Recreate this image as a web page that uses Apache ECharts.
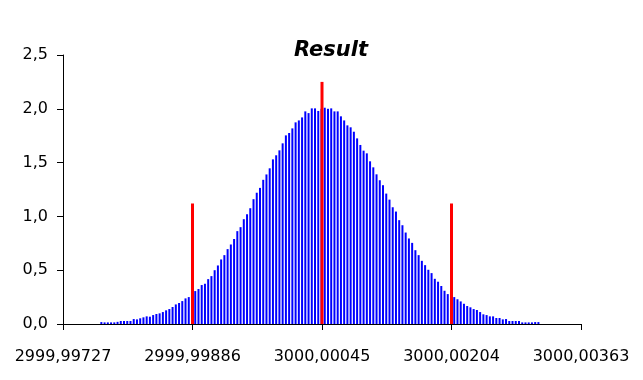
<!DOCTYPE html>
<html>
<head>
<meta charset="utf-8">
<script src="https://cdn.jsdelivr.net/npm/echarts@6/dist/echarts.min.js"></script>
<style>
html,body{margin:0;padding:0;background:#fff;}
#chart{width:643px;height:380px;}
</style>
</head>
<body>
<div id="chart"></div>
<script>
// x axis: bin index, 40 bins between labelled ticks
const tickLabels = ["2999,99727", "2999,99886", "3000,00045", "3000,00204", "3000,00363"];
const firstBin = 12;
const binCounts = [
  0.018, 0.015, 0.015, 0.015, 0.015, 0.02, 0.028, 0.028, 0.028, 0.028,
  0.046, 0.043, 0.053, 0.062, 0.071, 0.068, 0.083, 0.093, 0.099, 0.111,
  0.127, 0.139, 0.158, 0.182, 0.195, 0.213, 0.238, 0.25,
  0.28,
  0.306, 0.325, 0.362, 0.374, 0.417, 0.445, 0.50, 0.544, 0.60, 0.64,
  0.696, 0.739, 0.79, 0.863, 0.90, 0.974, 1.02,
  1.076, 1.16, 1.22, 1.265, 1.34, 1.39, 1.447, 1.53, 1.568, 1.614,
  1.679, 1.753, 1.775, 1.818, 1.874, 1.892, 1.92, 1.976, 1.96, 2.004,
  2.004, 1.98,
  2.0,
  2.01, 2.0, 2.004, 1.976, 1.976, 1.93, 1.892, 1.846, 1.828, 1.787,
  1.725, 1.664, 1.611, 1.586, 1.512, 1.456, 1.391, 1.336, 1.29, 1.212,
  1.156, 1.085, 1.045,
  0.965, 0.918, 0.85, 0.795, 0.754, 0.686, 0.64, 0.587, 0.547, 0.504,
  0.473, 0.42, 0.393, 0.353, 0.309, 0.278,
  0.27,
  0.25, 0.23, 0.21, 0.188, 0.167,
  0.155, 0.139, 0.13, 0.111, 0.09, 0.083, 0.071, 0.071, 0.056, 0.056,
  0.043, 0.046, 0.028, 0.028, 0.028, 0.028, 0.015, 0.015, 0.015, 0.015,
  0.018, 0.018
];
const markerBins = [40, 80, 120];
const markerValues = [1.12, 2.25, 1.12];
const yTicks = [0, 0.5, 1.0, 1.5, 2.0, 2.5];

const binsPerTick = 40;
const blueData = binCounts.map((v, i) => [firstBin + i, v]);
const redData = markerBins.map((b, i) => [b, markerValues[i]]);

const chart = echarts.init(document.getElementById('chart'), null, {renderer: 'canvas'});
const font = 'DejaVu Sans';
chart.setOption({
  animation: false,
  backgroundColor: '#ffffff',
  title: {
    text: 'Result',
    left: 294,
    top: 40,
    padding: 0,
    textStyle: {fontFamily: font, fontSize: 21, fontWeight: 'bold', fontStyle: 'italic', color: '#000'}
  },
  grid: {left: 63, right: 62, top: 55, bottom: 56, containLabel: false, outerBoundsMode: 'none'},
  xAxis: {
    type: 'value',
    min: 0,
    max: binsPerTick * (tickLabels.length - 1),
    interval: binsPerTick,
    axisLine: {show: true, onZero: true, lineStyle: {color: '#000', width: 1}},
    axisTick: {show: true, inside: false, length: 6, lineStyle: {color: '#000'}},
    splitLine: {show: false},
    axisLabel: {
      showMinLabel: true, showMaxLabel: true, hideOverlap: false,
      margin: 25,
      fontFamily: font, fontSize: 16, color: '#000',
      formatter: v => tickLabels[Math.round(v / binsPerTick)] || ''
    }
  },
  yAxis: {
    type: 'value',
    min: yTicks[0],
    max: yTicks[yTicks.length - 1],
    interval: 0.5,
    axisLine: {show: true, lineStyle: {color: '#000', width: 1}},
    axisTick: {show: true, inside: false, length: 6, lineStyle: {color: '#000'}},
    splitLine: {show: false},
    axisLabel: {
      margin: 15,
      fontFamily: font, fontSize: 16, color: '#000',
      formatter: v => v.toFixed(1).replace('.', ',')
    }
  },
  series: [
    {
      type: 'bar',
      data: blueData,
      barWidth: 2,
      barGap: '-100%',
      itemStyle: {color: '#0000ff'},
      silent: true
    },
    {
      type: 'bar',
      data: redData,
      barWidth: 3,
      barGap: '-100%',
      itemStyle: {color: '#ff0000'},
      silent: true
    }
  ]
});
</script>
</body>
</html>
